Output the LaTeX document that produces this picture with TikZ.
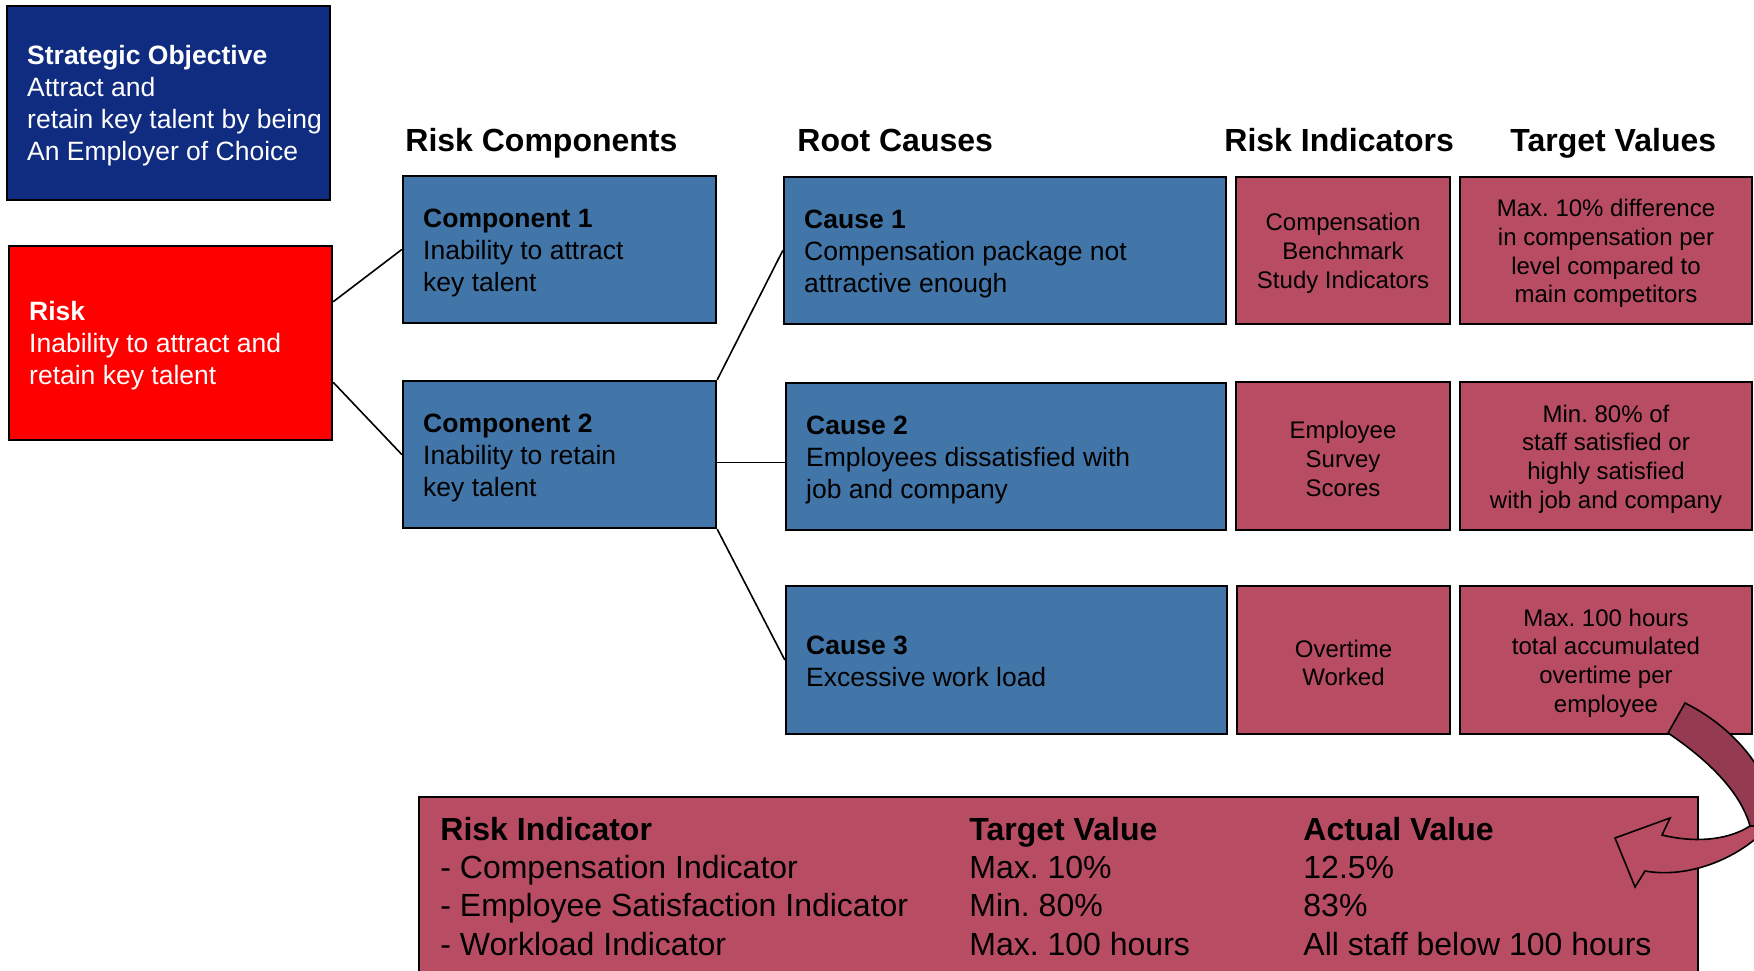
\documentclass[tikz,border=0pt]{standalone}
\usepackage{fontspec}
\setmainfont{Liberation Sans}
\usetikzlibrary{fit,calc}
\frenchspacing

\definecolor{objnavy}{RGB}{16,44,128}
\definecolor{riskred}{RGB}{255,0,0}
\definecolor{steel}{RGB}{66,117,168}
\definecolor{rose}{RGB}{184,76,98}
\definecolor{rosedark}{RGB}{148,59,81}

\begin{document}
\begin{tikzpicture}[x=0.5pt,y=-0.5pt,
  box/.style={draw=black, line width=1.2pt, inner sep=0pt},
  bodyfont/.style={font=\fontsize{13.25}{16}\selectfont},
  smallfont/.style={font=\fontsize{12}{14.4}\selectfont},
  bigfont/.style={font=\fontsize{16}{19.2}\selectfont},
  hdr/.style={font=\bfseries\fontsize{16}{19.2}\selectfont, inner sep=0pt, anchor=base west},
  lefttext/.style={anchor=west, align=left, inner sep=0pt, bodyfont},
  centertext/.style={align=center, inner sep=0pt, smallfont, yshift=-1.5pt},
  link/.style={draw=black, line width=0.8pt}
]
\clip (0,0) rectangle (1754,970);

% column headers
\node[hdr] (h-comp)  at (405,151)  {Risk Components};
\node[hdr] (h-cause) at (797,151)  {Root Causes};
\node[hdr] (h-ind)   at (1224,151) {Risk Indicators};
\node[hdr] (h-tgt)   at (1510,151) {Target Values};

% strategic objective and risk
\node[box, fill=objnavy, fit={(7,6) (330,200)}] (so) {};
\node[lefttext, text=white] (so-t) at ([xshift=10.5pt,yshift=-1.5pt]so.west)
  {\textbf{Strategic Objective}\\Attract and\\retain key talent by being\\An Employer of Choice};

\node[box, fill=riskred, fit={(9,246) (332,440)}] (risk) {};
\node[lefttext, text=white] (risk-t) at ([xshift=10.5pt,yshift=-1.5pt]risk.west)
  {\textbf{Risk}\\Inability to attract and\\retain key talent};

% risk components
\node[box, fill=steel, fit={(403,176) (716,323)}] (comp1) {};
\node[lefttext] (comp1-t) at ([xshift=10.5pt,yshift=-1.5pt]comp1.west)
  {\textbf{Component 1}\\Inability to attract\\key talent};

\node[box, fill=steel, fit={(403,381) (716,528)}] (comp2) {};
\node[lefttext] (comp2-t) at ([xshift=10.5pt,yshift=-1.5pt]comp2.west)
  {\textbf{Component 2}\\Inability to retain\\key talent};

% root causes
\node[box, fill=steel, fit={(784,177) (1226,324)}] (cause1) {};
\node[lefttext] (cause1-t) at ([xshift=10.5pt,yshift=-1.5pt]cause1.west)
  {\textbf{Cause 1}\\Compensation package not\\attractive enough};

\node[box, fill=steel, fit={(786,383) (1226,530)}] (cause2) {};
\node[lefttext] (cause2-t) at ([xshift=10.5pt,yshift=-1.5pt]cause2.west)
  {\textbf{Cause 2}\\Employees dissatisfied with\\job and company};

\node[box, fill=steel, fit={(786,586) (1227,734)}] (cause3) {};
\node[lefttext] (cause3-t) at ([xshift=10.5pt,yshift=-0.5pt]cause3.west)
  {\textbf{Cause 3}\\Excessive work load};

% risk indicators
\node[box, fill=rose, fit={(1236,177) (1450,324)}] (ind1) {};
\node[centertext] (ind1-t) at (ind1.center) {Compensation\\Benchmark\\Study Indicators};
\node[box, fill=rose, fit={(1236,382) (1450,530)}] (ind2) {};
\node[centertext] (ind2-t) at (ind2.center) {Employee\\Survey\\Scores};
\node[box, fill=rose, fit={(1237,586) (1450,734)}] (ind3) {};
\node[centertext] (ind3-t) at (ind3.center) {Overtime\\Worked};

% target values
\node[box, fill=rose, fit={(1460,177) (1752,324)}] (tgt1) {};
\node[centertext] (tgt1-t) at (tgt1.center)
  {Max. 10\% difference\\in compensation per\\level compared to\\main competitors};
\node[box, fill=rose, fit={(1460,382) (1752,530)}] (tgt2) {};
\node[centertext] (tgt2-t) at (tgt2.center)
  {Min. 80\% of\\staff satisfied or\\highly satisfied\\with job and company};
\node[box, fill=rose, fit={(1460,586) (1752,734)}] (tgt3) {};
\node[centertext] (tgt3-t) at (tgt3.center)
  {Max. 100 hours\\total accumulated\\overtime per\\employee};

% connectors
\draw[link] ($(risk.north east)!0.29!(risk.south east)$) -- (comp1.west);
\draw[link] ($(risk.north east)!0.70!(risk.south east)$) -- (comp2.west);
\draw[link] (comp2.north east) -- (cause1.west);
\coordinate (c2link) at ($(comp2.east)+(0,8)$);
\draw[link] (c2link) -- (c2link -| cause2.west);
\draw[link] (comp2.south east) -- (cause3.west);

% monitoring table
\node[box, fill=rose, fit={(419,797) (1698,1010)}] (table) {};
\node[anchor=base west, inner sep=0pt, bigfont] (table-c1) at (440,840)
  {\begin{tabular}[t]{@{}l@{}}\textbf{Risk Indicator}\\- Compensation Indicator\\- Employee Satisfaction Indicator\\- Workload Indicator\end{tabular}};
\node[anchor=base west, inner sep=0pt, bigfont] (table-c2) at (969,840)
  {\begin{tabular}[t]{@{}l@{}}\textbf{Target Value}\\Max. 10\%\\Min. 80\%\\Max. 100 hours\end{tabular}};
\node[anchor=base west, inner sep=0pt, bigfont] (table-c3) at (1303,840)
  {\begin{tabular}[t]{@{}l@{}}\textbf{Actual Value}\\12.5\%\\83\%\\All staff below 100 hours\end{tabular}};

% curved arrow from the targets to the table
\filldraw[fill=rose, draw=black, line width=0.8pt, line join=miter]
  (1750,826) .. controls (1725,842) and (1690,842) .. (1662,835)
  -- (1670,818) -- (1615,838) -- (1635,887) -- (1645,871)
  .. controls (1685,878) and (1730,862) .. (1760,835)
  -- (1775,826) -- cycle;
\filldraw[fill=rosedark, draw=black, line width=0.8pt, line join=miter]
  (1685,703) .. controls (1715,718) and (1750,745) .. (1770,790)
  -- (1775,826) -- (1750,826)
  .. controls (1740,790) and (1705,758) .. (1668,733) -- cycle;
\end{tikzpicture}
\end{document}
